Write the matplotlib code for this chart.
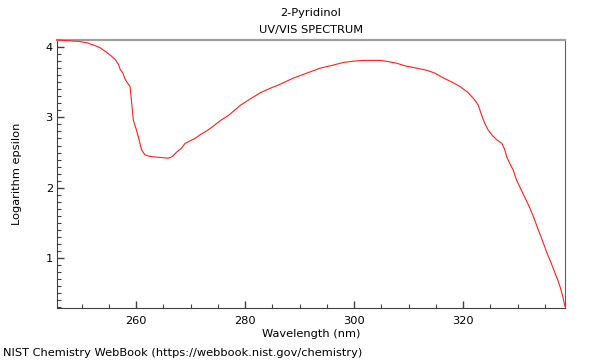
import matplotlib.pyplot as plt
from matplotlib.ticker import MultipleLocator

# spectrum (wavelength nm, log epsilon)
wavelength = [245.5, 247.5, 249.5, 251.0, 252.5, 253.4, 254.5, 255.5, 256.2, 256.8,
              257.1, 257.6, 258.0, 258.6, 258.9, 259.2, 259.5, 260.0, 260.4, 261.0,
              261.6, 262.3, 263.1, 264.5, 265.9, 266.6, 267.5, 268.3, 269.0, 270.0,
              270.8, 271.7, 273.0, 273.9, 275.4, 277.0, 279.1, 280.5, 282.8, 284.5,
              286.4, 288.9, 291.0, 293.8, 296.0, 298.0, 300.0, 301.7, 303.5, 304.8,
              306.5, 307.8, 309.5, 311.5, 313.3, 314.8, 316.4, 318.0, 319.4, 320.8,
              321.9, 322.4, 322.8, 323.4, 324.0, 324.6, 325.4, 326.2, 327.1, 327.6,
              328.0, 328.6, 329.2, 329.8, 330.6, 331.4, 332.2, 332.9, 333.8, 334.6,
              335.4, 336.2, 336.9, 337.4, 337.8, 338.3, 338.7]
log_eps = [4.10, 4.09, 4.08, 4.06, 4.02, 3.99, 3.93, 3.87, 3.82, 3.75,
           3.68, 3.63, 3.54, 3.47, 3.44, 3.20, 2.96, 2.84, 2.73, 2.54,
           2.47, 2.45, 2.44, 2.43, 2.42, 2.44, 2.51, 2.56, 2.63, 2.67,
           2.70, 2.75, 2.81, 2.86, 2.95, 3.03, 3.17, 3.24, 3.35, 3.41,
           3.47, 3.56, 3.62, 3.70, 3.74, 3.78, 3.80, 3.81, 3.81, 3.81,
           3.79, 3.77, 3.73, 3.70, 3.67, 3.63, 3.56, 3.50, 3.44, 3.36,
           3.27, 3.22, 3.17, 3.03, 2.91, 2.82, 2.74, 2.68, 2.63, 2.55,
           2.44, 2.34, 2.25, 2.11, 1.98, 1.85, 1.72, 1.59, 1.40, 1.24,
           1.07, 0.92, 0.78, 0.68, 0.59, 0.45, 0.31]

plt.rcParams['font.family'] = 'DejaVu Sans'
fs = 8.2
fig = plt.figure(figsize=(6, 3.6), dpi=100)
ax = fig.add_axes([0.095, 0.1444, 0.8467, 0.7445])

ax.plot(wavelength, log_eps, color='#ff2020', lw=0.8, zorder=5, clip_on=False)

ax.set_xlim(245.5, 338.7)
ax.set_ylim(0.29, 4.1)
ax.xaxis.set_major_locator(MultipleLocator(20))
ax.xaxis.set_minor_locator(MultipleLocator(5))
ax.yaxis.set_major_locator(MultipleLocator(1))
ax.yaxis.set_minor_locator(MultipleLocator(0.1))
ax.tick_params(which='both', direction='in', top=False, right=False,
               labelsize=fs, color='#404040')
ax.tick_params(axis='x', pad=6)
ax.tick_params(axis='y', pad=3)
ax.tick_params(which='major', length=5, width=1)
ax.tick_params(which='minor', length=3, width=0.8)

ax.spines['top'].set_color('#a0a0a0')
ax.spines['top'].set_linewidth(1.6)
ax.spines['right'].set_color('#606060')
ax.spines['left'].set_color('#404040')
ax.spines['bottom'].set_color('#404040')

ax.set_xlabel('Wavelength (nm)', fontsize=fs, labelpad=2)
ax.set_ylabel('Logarithm epsilon', fontsize=fs, labelpad=17)
fig.text(0.518, 0.963, '2-Pyridinol', ha='center', va='center', fontsize=fs)
fig.text(0.518, 0.917, 'UV/VIS SPECTRUM', ha='center', va='center', fontsize=fs)
fig.text(0.005, 0.02, 'NIST Chemistry WebBook (https://webbook.nist.gov/chemistry)',
         ha='left', va='center', fontsize=fs)

fig.savefig('out.png', dpi=100)
